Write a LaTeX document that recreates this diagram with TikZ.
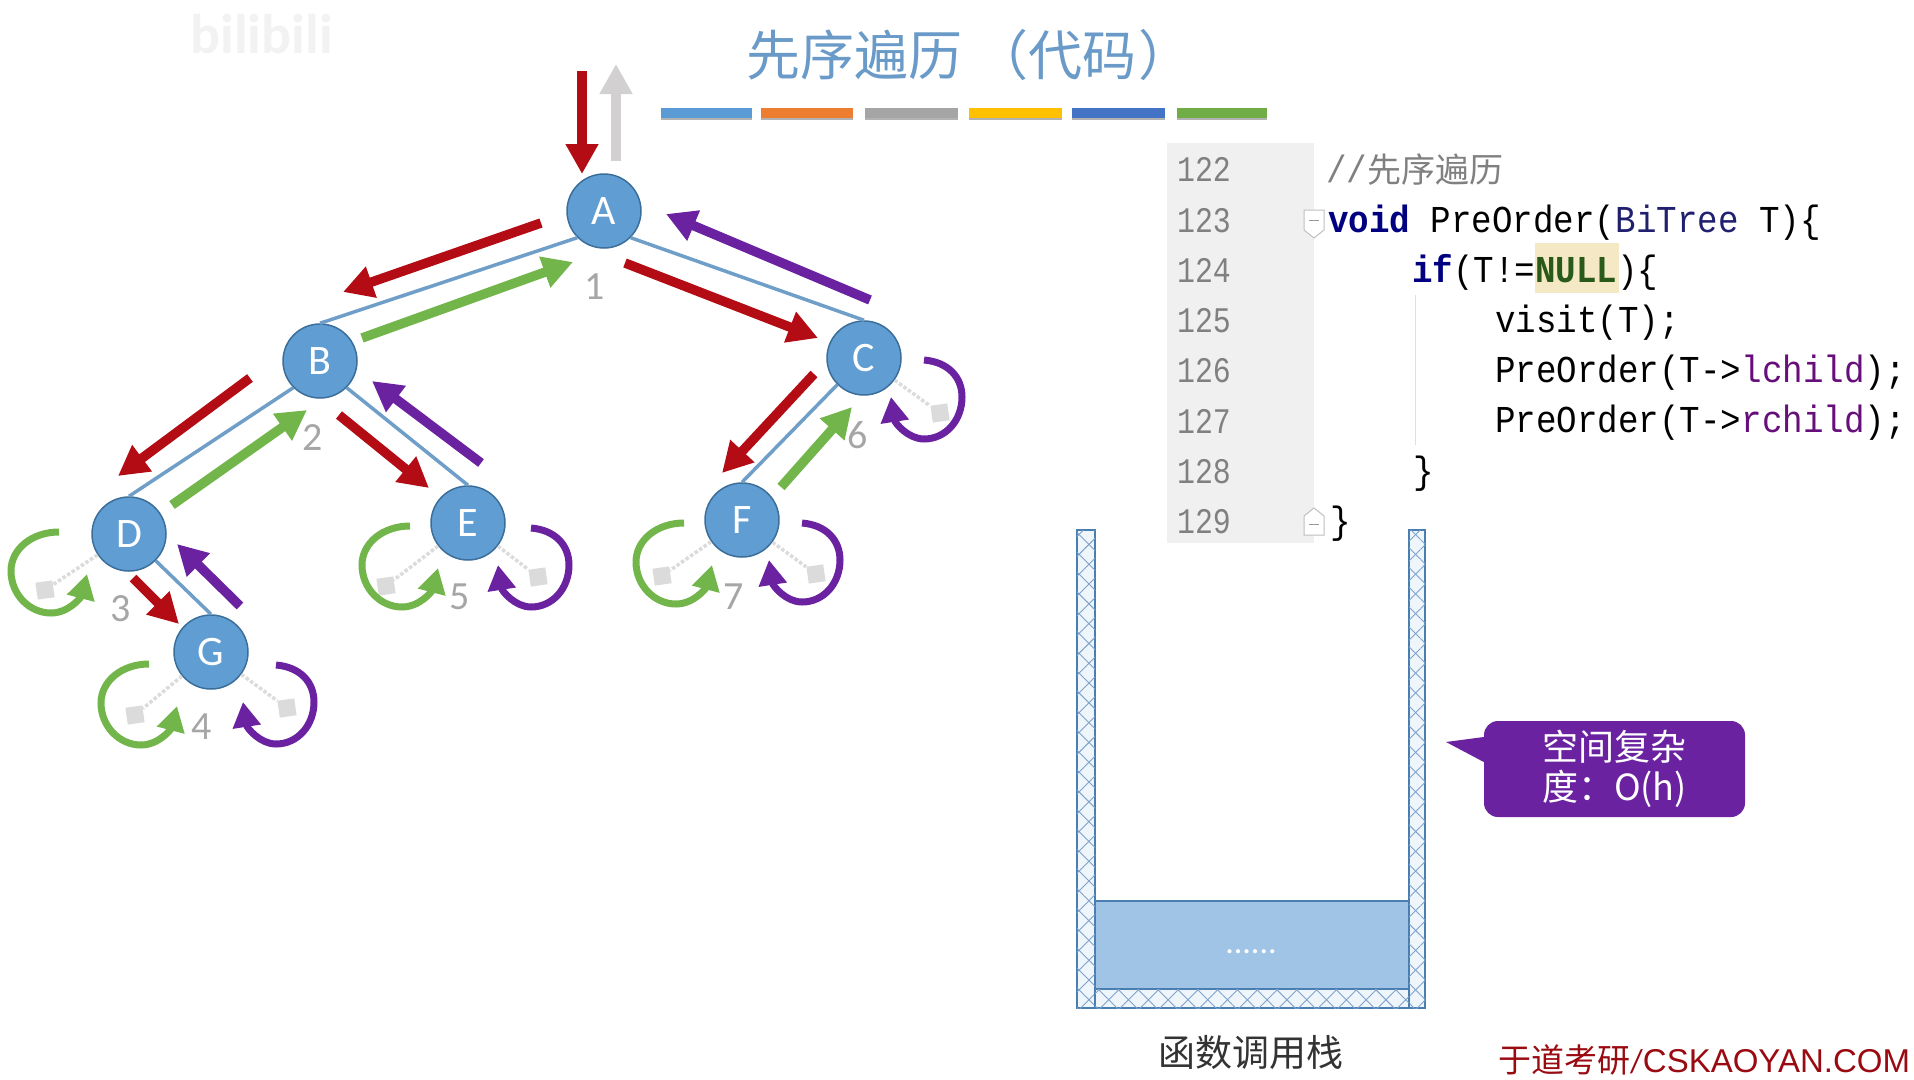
\documentclass[tikz,border=0pt]{standalone}
\usepackage{fontspec}
\setmainfont{Carlito}
\setmonofont[FakeStretch=0.9]{Liberation Mono}
\newfontfamily\cjkfont{Noto Sans CJK SC}
\newfontfamily\linenofont[FakeStretch=0.83]{Liberation Mono}
\usetikzlibrary{arrows.meta,patterns.meta}
\definecolor{vertexblue}{HTML}{5F9DD3}
\definecolor{vertexedge}{HTML}{3C6E9A}
\definecolor{edgeblue}{HTML}{6F9FC8}
\definecolor{titleblue}{HTML}{6A9BC8}
\definecolor{walkred}{HTML}{B40C14}
\definecolor{walkgreen}{HTML}{72B54A}
\definecolor{walkpurple}{HTML}{6A22A0}
\definecolor{walkgray}{HTML}{D2D0D1}
\definecolor{stackblue}{HTML}{4A7DB0}
\definecolor{hatchblue}{HTML}{7FA3CC}
\definecolor{stackfill}{HTML}{A0C4E6}
\definecolor{wallfill}{HTML}{EEF5FB}
\definecolor{kwnavy}{HTML}{000080}
\definecolor{typenavy}{HTML}{20206F}
\definecolor{nullgreen}{HTML}{2A5A1A}
\definecolor{nullback}{HTML}{F5E9C5}
\definecolor{fieldpurple}{HTML}{660E7A}
\tikzset{
  vertex/.style={circle,minimum size=74pt,inner sep=0pt,fill=vertexblue,draw=vertexedge,line width=1.5pt,text=white,font=\fontsize{42}{44}\selectfont},
  treeedge/.style={draw=edgeblue,line width=3.5pt},
  visitnum/.style={text=gray!70,inner sep=0pt,font=\fontsize{40}{44}\selectfont},
  walk/.style={line width=9.5pt,-{Triangle[length=30pt,width=31pt]}},
  turn/.style={line width=7pt,-{Triangle[length=25pt,width=27pt]}},
  nullbox/.style={rectangle,minimum size=17pt,inner sep=0pt,fill=black!14},
  nulllink/.style={draw=black!14,line width=3.5pt,dotted},
  codeline/.style={anchor=base west,inner sep=0pt,font=\ttfamily\fontsize{38}{38}\selectfont},
  lineno/.style={inner sep=0pt,anchor=base,text=gray,font=\linenofont\fontsize{36}{36}\selectfont},
  foldmark/.style={fill=white,draw=black!25,line width=1pt},
  wallpart/.style={fill=wallfill,draw=stackblue,line width=2pt,
    postaction={pattern={Lines[angle=45,distance=14pt,line width=0.9pt]},pattern color=hatchblue},
    postaction={pattern={Lines[angle=-45,distance=14pt,line width=0.9pt]},pattern color=hatchblue}}
}
\begin{document}
\begin{tikzpicture}[x=1pt,y=-1pt,font=\fontsize{36}{40}\selectfont]
\useasboundingbox (0,0) rectangle (1914,1079);
\node[anchor=west,inner sep=0pt,text=black!5,font=\bfseries\fontsize{56}{56}\selectfont] (mark-bili) at (190,34) {bilibili};
\node[anchor=west,inner sep=0pt,text=titleblue,font=\cjkfont\fontsize{54}{54}\selectfont] (title-main) at (746,55) {先序遍历\hspace{12pt}（代码\hspace{2pt}）};
\path[fill=black!30] (661,110) rectangle (752,120);
\path[fill=black!30] (761,110) rectangle (853,120);
\path[fill=black!30] (865,110) rectangle (958,120);
\path[fill=black!30] (969,110) rectangle (1062,120);
\path[fill=black!30] (1072,110) rectangle (1165,120);
\path[fill=black!30] (1177,110) rectangle (1267,120);
\path[fill={rgb,255:red,91;green,155;blue,213}] (661,108) rectangle (752,118);
\path[fill={rgb,255:red,237;green,125;blue,49}] (761,108) rectangle (853,118);
\path[fill={rgb,255:red,165;green,165;blue,165}] (865,108) rectangle (958,118);
\path[fill={rgb,255:red,255;green,192;blue,0}] (969,108) rectangle (1062,118);
\path[fill={rgb,255:red,68;green,114;blue,196}] (1072,108) rectangle (1165,118);
\path[fill={rgb,255:red,112;green,173;blue,71}] (1177,108) rectangle (1267,118);
\node[vertex] (vertex-a) at (604,211) {A};
\node[vertex] (vertex-b) at (320,361) {B};
\node[vertex] (vertex-c) at (864,358) {C};
\node[vertex] (vertex-d) at (129,534) {D};
\node[vertex] (vertex-e) at (468,523) {E};
\node[vertex] (vertex-f) at (742,520) {F};
\node[vertex] (vertex-g) at (211,652) {G};
\draw[treeedge] (vertex-a.south west) -- (vertex-b.north);
\draw[treeedge] (vertex-a.south east) -- (vertex-c.north);
\draw[treeedge] (vertex-b.south west) -- (vertex-d.north);
\draw[treeedge] (vertex-b.south east) -- (vertex-e.north);
\draw[treeedge] (vertex-c.south west) -- (vertex-f.north);
\draw[treeedge] (vertex-d.south east) -- (vertex-g.north);
\node[visitnum] (num-1) at (595,287) {1};
\node[visitnum] (num-2) at (313,438) {2};
\node[visitnum] (num-3) at (121,609) {3};
\node[visitnum] (num-4) at (202,727) {4};
\node[visitnum] (num-5) at (460,597) {5};
\node[visitnum] (num-6) at (858,435) {6};
\node[visitnum] (num-7) at (734,597) {7};
\node[nullbox,rotate=8] (null-d-0) at (45,590) {};
\node[nullbox,rotate=8] (null-e-0) at (386,586) {};
\node[nullbox,rotate=8] (null-e-1) at (538,577) {};
\node[nullbox,rotate=8] (null-f-0) at (662,576) {};
\node[nullbox,rotate=8] (null-f-1) at (816,574) {};
\node[nullbox,rotate=8] (null-g-0) at (135,715) {};
\node[nullbox,rotate=8] (null-g-1) at (287,708) {};
\node[nullbox,rotate=8] (null-c-1) at (940,413) {};
\draw[nulllink] (vertex-d) -- (null-d-0);
\draw[nulllink] (vertex-e) -- (null-e-0);
\draw[nulllink] (vertex-e) -- (null-e-1);
\draw[nulllink] (vertex-f) -- (null-f-0);
\draw[nulllink] (vertex-f) -- (null-f-1);
\draw[nulllink] (vertex-g) -- (null-g-0);
\draw[nulllink] (vertex-g) -- (null-g-1);
\draw[nulllink] (vertex-c) -- (null-c-1);
\coordinate (enter-from) at (582,71);
\coordinate (leave-from) at (616,161);
\coordinate (leave-to) at (616,64);
\draw[walk,walkred] (enter-from) -- ([shift={(-22,-37)}]vertex-a.center);
\draw[walk,walkgray] (leave-from) -- (leave-to);
\draw[walk,walkred] ([shift={(-63,12)}]vertex-a.center) -- ([shift={(23,-69)}]vertex-b.center);
\draw[walk,walkgreen] ([shift={(42,-23)}]vertex-b.center) -- ([shift={(-31,51)}]vertex-a.center);
\draw[walk,walkred] ([shift={(21,52)}]vertex-a.center) -- ([shift={(-46,-20)}]vertex-c.center);
\draw[walk,walkpurple] ([shift={(6,-58)}]vertex-c.center) -- ([shift={(62,3)}]vertex-a.center);
\draw[walk,walkred] ([shift={(-70,17)}]vertex-b.center) -- ([shift={(-11,-58)}]vertex-d.center);
\draw[walk,walkgreen] ([shift={(43,-29)}]vertex-d.center) -- ([shift={(-13,49)}]vertex-b.center);
\draw[walk,walkred] ([shift={(19,54)}]vertex-b.center) -- ([shift={(-39,-35)}]vertex-e.center);
\draw[walk,walkpurple] ([shift={(13,-60)}]vertex-e.center) -- ([shift={(52,20)}]vertex-b.center);
\draw[walk,walkred] ([shift={(-50,16)}]vertex-c.center) -- ([shift={(-20,-47)}]vertex-f.center);
\draw[walk,walkgreen] ([shift={(39,-33)}]vertex-f.center) -- ([shift={(-12,49)}]vertex-c.center);
\draw[walk,walkred] ([shift={(4,44)}]vertex-d.center) -- ([shift={(-32,-28)}]vertex-g.center);
\draw[walk,walkpurple] ([shift={(29,-46)}]vertex-g.center) -- ([shift={(48,10)}]vertex-d.center);
\draw[turn,walkgreen] (59,532) .. controls (32,532) and (11,549) .. (11,571) .. controls (11,594) and (29,613) .. (51,613) .. controls (69,613) and (81,597) .. (87,574);
\draw[turn,walkgreen] (410,526) .. controls (383,526) and (362,543) .. (362,565) .. controls (362,588) and (380,607) .. (402,607) .. controls (420,607) and (432,591) .. (438,568);
\draw[turn,walkgreen] (684,523) .. controls (657,523) and (636,540) .. (636,562) .. controls (636,585) and (654,604) .. (676,604) .. controls (694,604) and (706,588) .. (712,565);
\draw[turn,walkgreen] (149,664) .. controls (122,664) and (101,681) .. (101,703) .. controls (101,726) and (119,745) .. (141,745) .. controls (159,745) and (171,729) .. (177,706);
\draw[turn,walkpurple] (531,528) .. controls (555,530) and (569,545) .. (569,565) .. controls (569,588) and (553,607) .. (531,607) .. controls (515,607) and (502,591) .. (498,565);
\draw[turn,walkpurple] (802,523) .. controls (826,525) and (840,540) .. (840,560) .. controls (840,583) and (824,602) .. (802,602) .. controls (786,602) and (773,586) .. (769,560);
\draw[turn,walkpurple] (276,665) .. controls (300,667) and (314,682) .. (314,702) .. controls (314,725) and (298,744) .. (276,744) .. controls (260,744) and (247,728) .. (243,702);
\draw[turn,walkpurple] (924,360) .. controls (948,362) and (962,377) .. (962,397) .. controls (962,420) and (946,439) .. (924,439) .. controls (908,439) and (895,423) .. (891,397);
\path[fill=black!6] (1167,143) rectangle (1314,543);
\path[fill=nullback] (1535,243) rectangle (1619,293);
\draw[draw=black!12,line width=1pt] (1415,295) -- (1415,445);
\path[foldmark] (1304,210) -- (1324,210) -- (1324,230) -- (1314,238) -- (1304,230) -- cycle;
\path[foldmark] (1304,535) -- (1324,535) -- (1324,516) -- (1314,508) -- (1304,516) -- cycle;
\draw[draw=black!40,line width=1pt] (1309,220) -- (1319,220);
\draw[draw=black!40,line width=1pt] (1309,524) -- (1319,524);
\node[lineno] (lineno-122) at (1204,181) {122};
\node[lineno] (lineno-123) at (1204,232) {123};
\node[lineno] (lineno-124) at (1204,282) {124};
\node[lineno] (lineno-125) at (1204,332) {125};
\node[lineno] (lineno-126) at (1204,382) {126};
\node[lineno] (lineno-127) at (1204,433) {127};
\node[lineno] (lineno-128) at (1204,483) {128};
\node[lineno] (lineno-129) at (1204,533) {129};
\node[codeline,text=gray] (code-122) at (1326,182) {//{\cjkfont\fontsize{34}{34}\selectfont 先序遍历}};
\node[codeline] (code-123) at (1328,232) {\textcolor{kwnavy}{\bfseries void} PreOrder(\textcolor{typenavy}{BiTree} T)\{};
\node[codeline] (code-124) at (1412,282) {\textcolor{kwnavy}{\bfseries if}(T!=\textcolor{nullgreen}{\bfseries NULL})\{};
\node[codeline] (code-125) at (1495,332) {visit(T);};
\node[codeline] (code-126) at (1495,382) {PreOrder(T->\textcolor{fieldpurple}{lchild});};
\node[codeline] (code-127) at (1495,432) {PreOrder(T->\textcolor{fieldpurple}{rchild});};
\node[codeline] (code-128) at (1413,483) {\}};
\node[codeline] (code-129) at (1330,533) {\}};
\path[fill=stackfill,draw=stackblue,line width=2pt] (1095,901) rectangle (1409,989);
\path[wallpart] (1077,530) rectangle (1095,1008);
\path[wallpart] (1409,530) rectangle (1425,1008);
\path[wallpart] (1095,989) rectangle (1409,1008);
\node[inner sep=0pt,text=white,font=\fontsize{34}{34}\selectfont] (stack-dots) at (1251,952) {......};
\node[inner sep=0pt,text=black!80,font=\cjkfont\fontsize{37}{37}\selectfont] (stack-caption) at (1251,1052) {函数调用栈};
\node[rectangle,rounded corners=14pt,minimum width=261pt,minimum height=96pt,inner sep=0pt,fill=walkpurple,text=white,align=center,font=\cjkfont\fontsize{36}{40}\selectfont] (callout-space) at (1614.5,769) {空间复杂\\度：O(h)};
\coordinate (callout-tip) at (1446,742);
\path[fill=walkpurple] ([yshift=32pt]callout-space.west) -- (callout-tip) -- ([yshift=7pt]callout-space.west) -- cycle;
\node[anchor=base west,inner sep=0pt,text=walkred!85!black,font=\fontsize{33}{33}\selectfont] (mark-site) at (1498,1072) {{\cjkfont 于道考研}/\fontspec{Liberation Sans}CSKAOYAN.COM};
\end{tikzpicture}
\end{document}
